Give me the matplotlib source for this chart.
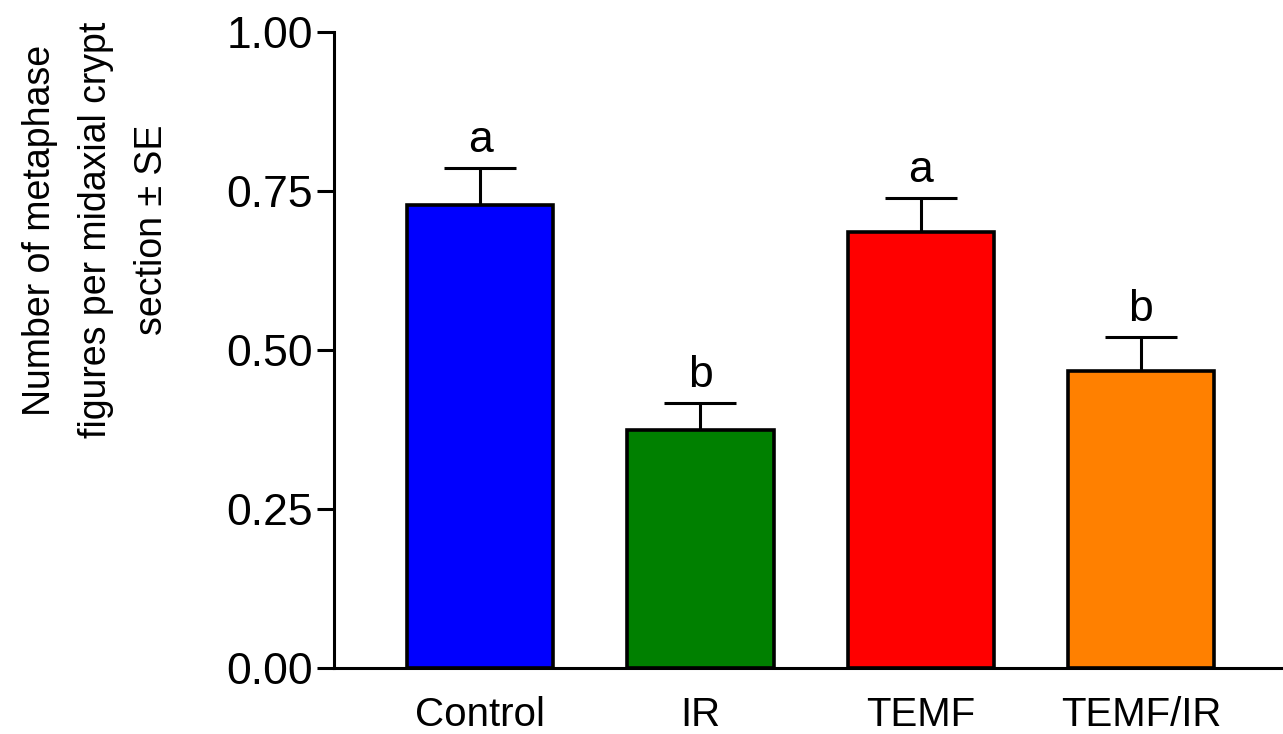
import numpy as np
import matplotlib
matplotlib.use("Agg")
import matplotlib.pyplot as plt

plt.rcParams["font.family"] = ["Liberation Sans", "DejaVu Sans"]

#data
groups = ["Control", "IR", "TEMF", "TEMF/IR"]
means = [0.728, 0.374, 0.686, 0.467]
se = [0.058, 0.043, 0.053, 0.053]
letters = ["a", "b", "a", "b"]
colors = ["#0000ff", "#008000", "#ff0000", "#ff8000"]
yticks = [0.00, 0.25, 0.50, 0.75, 1.00]

fig = plt.figure(figsize=(12.83, 7.34), dpi=100)
ax = fig.add_axes([334 / 1283, 1 - 668 / 734, 949 / 1283, 636 / 734])

x = np.arange(len(groups))
ax.bar(x, means, width=0.664, color=colors, edgecolor="black", linewidth=2.6, zorder=2)
ax.errorbar(x, means, yerr=[np.zeros(len(se)), se], fmt="none", ecolor="black",
            elinewidth=2.2, capsize=26, capthick=2.2, zorder=1)

for xi, m, s, lab in zip(x, means, se, letters):
    ax.annotate(lab, (xi, m + s), xytext=(0, 5), textcoords="offset points",
                ha="center", va="bottom", fontsize=32)

ax.set_xlim(-0.664, 3.645)
ax.set_ylim(0, 1.0)
ax.set_yticks(yticks)
ax.set_yticklabels(["%.2f" % t for t in yticks])
ax.set_xticks(x)
ax.set_xticklabels(groups)

for side in ["top", "right"]:
    ax.spines[side].set_visible(False)
for side in ["left", "bottom"]:
    ax.spines[side].set_linewidth(2.2)

ax.tick_params(axis="y", direction="out", length=12, width=2.2, labelsize=32, pad=3)
ax.tick_params(axis="x", length=0, labelsize=29, pad=20)

fig.text(96 / 1283, 1 - 230 / 734,
         "Number of metaphase\nfigures per midaxial crypt\nsection \u00b1 SE",
         rotation=90, ha="center", va="center", multialignment="center",
         fontsize=27, linespacing=1.7)

fig.savefig("out.png", dpi=100)
